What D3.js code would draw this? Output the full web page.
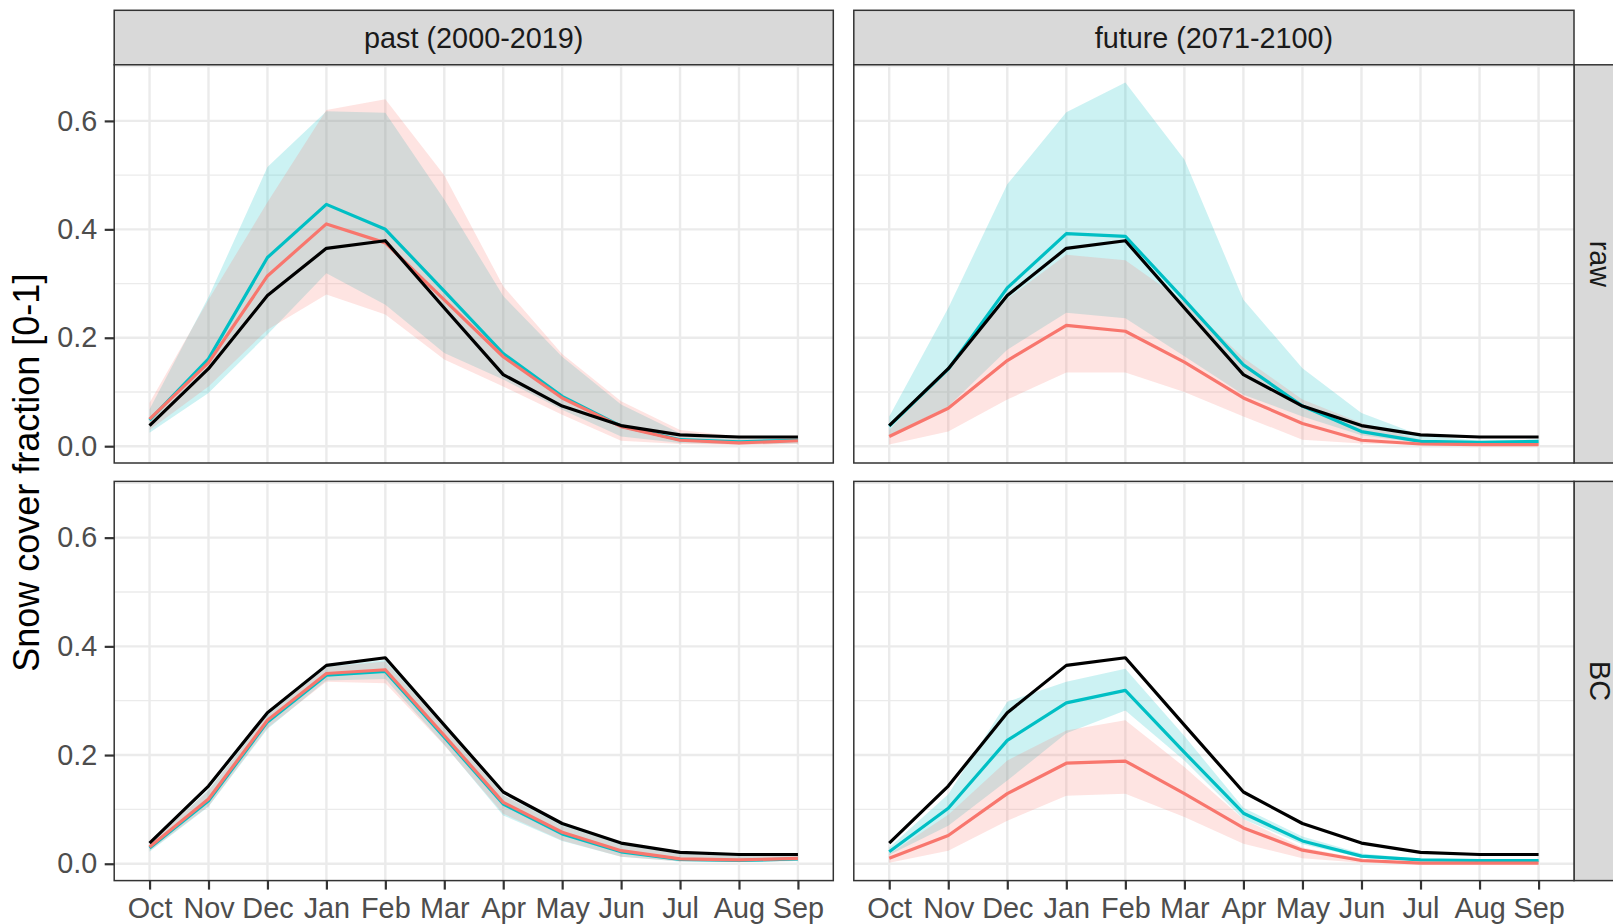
<!DOCTYPE html>
<html>
<head>
<meta charset="utf-8">
<script src="https://cdn.jsdelivr.net/npm/d3@7"></script>
<style>
  body { margin: 0; background: #fff; overflow: hidden; }
  svg { display: block; font-family: "Liberation Sans", Arial, sans-serif; }
</style>
</head>
<body>
<div id="chart"></div>
<script>
// categories and facet labels
var months = ["Oct", "Nov", "Dec", "Jan", "Feb", "Mar", "Apr", "May", "Jun", "Jul", "Aug", "Sep"];
var periods = ["past (2000-2019)", "future (2071-2100)"];
var corrections = ["raw", "BC"];
var yTicks = [0, 0.2, 0.4, 0.6];
var yMinor = [0.1, 0.3, 0.5, 0.7];

// observed snow cover (black line, same in every panel)
var observed = [0.038, 0.143, 0.278, 0.365, 0.379, 0.255, 0.132, 0.074, 0.038, 0.021, 0.017, 0.017];

// past, raw
var pastRawRed     = [0.050, 0.154, 0.314, 0.410, 0.375, 0.270, 0.165, 0.089, 0.036, 0.011, 0.006, 0.010];
var pastRawRedLo   = [0.030, 0.110, 0.215, 0.280, 0.243, 0.160, 0.110, 0.058, 0.010, 0.004, 0.002, 0.004];
var pastRawRedHi   = [0.080, 0.270, 0.450, 0.620, 0.640, 0.500, 0.295, 0.170, 0.083, 0.030, 0.018, 0.018];
var pastRawCyan    = [0.048, 0.161, 0.348, 0.446, 0.400, 0.286, 0.171, 0.092, 0.037, 0.012, 0.008, 0.011];
var pastRawCyanLo  = [0.025, 0.098, 0.206, 0.319, 0.261, 0.172, 0.123, 0.067, 0.018, 0.006, 0.003, 0.005];
var pastRawCyanHi  = [0.068, 0.275, 0.515, 0.618, 0.615, 0.455, 0.277, 0.165, 0.077, 0.024, 0.018, 0.018];

// future, raw
var futRawRed      = [0.018, 0.070, 0.158, 0.223, 0.212, 0.155, 0.089, 0.042, 0.011, 0.004, 0.003, 0.003];
var futRawRedLo    = [0.003, 0.027, 0.086, 0.136, 0.136, 0.100, 0.055, 0.012, 0.005, 0.002, 0.001, 0.001];
var futRawRedHi    = [0.030, 0.145, 0.272, 0.353, 0.343, 0.266, 0.163, 0.086, 0.043, 0.012, 0.006, 0.006];
var futRawCyan     = [0.037, 0.142, 0.292, 0.392, 0.387, 0.270, 0.150, 0.074, 0.027, 0.009, 0.007, 0.009];
var futRawCyanLo   = [0.020, 0.073, 0.178, 0.246, 0.236, 0.166, 0.095, 0.055, 0.020, 0.006, 0.004, 0.005];
var futRawCyanHi   = [0.055, 0.255, 0.483, 0.616, 0.671, 0.529, 0.270, 0.144, 0.061, 0.020, 0.010, 0.012];

// past, bias corrected
var pastBcRed      = [0.031, 0.119, 0.264, 0.350, 0.357, 0.236, 0.113, 0.058, 0.024, 0.009, 0.007, 0.010];
var pastBcRedLo    = [0.024, 0.106, 0.250, 0.335, 0.332, 0.218, 0.092, 0.043, 0.013, 0.004, 0.003, 0.005];
var pastBcRedHi    = [0.037, 0.135, 0.273, 0.362, 0.372, 0.250, 0.126, 0.070, 0.035, 0.018, 0.014, 0.015];
var pastBcCyan     = [0.029, 0.116, 0.261, 0.347, 0.354, 0.233, 0.110, 0.055, 0.022, 0.008, 0.006, 0.009];
var pastBcCyanLo   = [0.022, 0.105, 0.248, 0.337, 0.340, 0.219, 0.089, 0.042, 0.013, 0.004, 0.003, 0.005];
var pastBcCyanHi   = [0.036, 0.136, 0.274, 0.363, 0.375, 0.250, 0.127, 0.072, 0.036, 0.019, 0.015, 0.016];

// future, bias corrected
var futBcRed       = [0.010, 0.052, 0.129, 0.185, 0.189, 0.129, 0.066, 0.025, 0.006, 0.001, 0.001, 0.001];
var futBcRedLo     = [0.002, 0.024, 0.079, 0.125, 0.129, 0.086, 0.037, 0.010, 0.002, 0.000, 0.000, 0.000];
var futBcRedHi     = [0.018, 0.090, 0.190, 0.245, 0.264, 0.178, 0.082, 0.030, 0.009, 0.003, 0.002, 0.002];
var futBcCyan      = [0.022, 0.102, 0.227, 0.296, 0.319, 0.205, 0.093, 0.042, 0.014, 0.007, 0.006, 0.006];
var futBcCyanLo    = [0.016, 0.070, 0.153, 0.240, 0.282, 0.190, 0.082, 0.036, 0.011, 0.004, 0.003, 0.003];
var futBcCyanHi    = [0.030, 0.128, 0.298, 0.335, 0.359, 0.235, 0.103, 0.050, 0.019, 0.009, 0.007, 0.007];

var red = "#F8766D", cyan = "#00BFC4";

var panels = [
  { col: 0, row: 0, red: pastRawRed, redLo: pastRawRedLo, redHi: pastRawRedHi, cyan: pastRawCyan, cyanLo: pastRawCyanLo, cyanHi: pastRawCyanHi },
  { col: 1, row: 0, red: futRawRed,  redLo: futRawRedLo,  redHi: futRawRedHi,  cyan: futRawCyan,  cyanLo: futRawCyanLo,  cyanHi: futRawCyanHi },
  { col: 0, row: 1, red: pastBcRed,  redLo: pastBcRedLo,  redHi: pastBcRedHi,  cyan: pastBcCyan,  cyanLo: pastBcCyanLo,  cyanHi: pastBcCyanHi },
  { col: 1, row: 1, red: futBcRed,   redLo: futBcRedLo,   redHi: futBcRedHi,   cyan: futBcCyan,   cyanLo: futBcCyanLo,   cyanHi: futBcCyanHi }
];

var width = 1613, height = 924;
var colX = [[114.2, 833.3], [853.8, 1574]];
var rowY = [[64.8, 463], [481.4, 880.6]];
var stripTop = 10.3, stripRightW = 54;

var svg = d3.select("#chart").append("svg")
  .attr("width", width)
  .attr("height", height);

// y title
svg.append("text")
  .attr("transform", "translate(39," + ((rowY[0][0] + rowY[1][1]) / 2) + ") rotate(-90)")
  .attr("text-anchor", "middle")
  .attr("font-size", 36)
  .attr("fill", "#000")
  .text("Snow cover fraction [0-1]");

// top strips
periods.forEach(function(p, i) {
  var x0 = colX[i][0], x1 = colX[i][1];
  svg.append("rect")
    .attr("x", x0).attr("y", stripTop)
    .attr("width", x1 - x0).attr("height", rowY[0][0] - stripTop)
    .attr("fill", "#D9D9D9").attr("stroke", "#333333").attr("stroke-width", 1.5);
  svg.append("text")
    .attr("x", (x0 + x1) / 2).attr("y", (stripTop + rowY[0][0]) / 2 + 10.3)
    .attr("text-anchor", "middle")
    .attr("font-size", 28.8)
    .attr("fill", "#1A1A1A")
    .text(p);
});

// right strips
corrections.forEach(function(c, j) {
  var y0 = rowY[j][0], y1 = rowY[j][1];
  var sx = colX[1][1];
  svg.append("rect")
    .attr("x", sx).attr("y", y0)
    .attr("width", stripRightW).attr("height", y1 - y0)
    .attr("fill", "#D9D9D9").attr("stroke", "#333333").attr("stroke-width", 1.5);
  svg.append("text")
    .attr("transform", "translate(" + (sx + 16) + "," + ((y0 + y1) / 2) + ") rotate(90)")
    .attr("text-anchor", "middle")
    .attr("font-size", 28.8)
    .attr("fill", "#1A1A1A")
    .text(c);
});

panels.forEach(function(pn) {
  var x0 = colX[pn.col][0], x1 = colX[pn.col][1];
  var y0 = rowY[pn.row][0], y1 = rowY[pn.row][1];

  var x = d3.scalePoint().domain(months).range([x0, x1]).padding(0.6);
  var y = d3.scaleLinear().domain([-0.031, 0.7035]).range([y1, y0]);

  var g = svg.append("g");

  g.append("rect")
    .attr("x", x0).attr("y", y0)
    .attr("width", x1 - x0).attr("height", y1 - y0)
    .attr("fill", "#fff");

  // grid
  g.selectAll(".minor").data(yMinor.filter(function(d) { return y(d) > y0; })).enter()
    .append("line")
    .attr("x1", x0).attr("x2", x1)
    .attr("y1", function(d) { return y(d); }).attr("y2", function(d) { return y(d); })
    .attr("stroke", "#EBEBEB").attr("stroke-width", 1.3);
  g.selectAll(".majorY").data(yTicks).enter()
    .append("line")
    .attr("x1", x0).attr("x2", x1)
    .attr("y1", function(d) { return y(d); }).attr("y2", function(d) { return y(d); })
    .attr("stroke", "#EBEBEB").attr("stroke-width", 2.4);
  g.selectAll(".majorX").data(months).enter()
    .append("line")
    .attr("x1", function(d) { return x(d); }).attr("x2", function(d) { return x(d); })
    .attr("y1", y0).attr("y2", y1)
    .attr("stroke", "#EBEBEB").attr("stroke-width", 2.4);

  var area = function(lo, hi) {
    return d3.area()
      .x(function(d, i) { return x(months[i]); })
      .y0(function(d, i) { return y(lo[i]); })
      .y1(function(d, i) { return y(hi[i]); })(months);
  };
  var line = function(vals) {
    return d3.line()
      .x(function(d, i) { return x(months[i]); })
      .y(function(d) { return y(d); })(vals);
  };

  g.append("path").attr("d", area(pn.cyanLo, pn.cyanHi)).attr("fill", cyan).attr("fill-opacity", 0.2);
  g.append("path").attr("d", area(pn.redLo, pn.redHi)).attr("fill", red).attr("fill-opacity", 0.2);

  [[pn.cyan, cyan], [pn.red, red], [observed, "#000"]].forEach(function(s) {
    g.append("path")
      .attr("d", line(s[0]))
      .attr("fill", "none")
      .attr("stroke", s[1])
      .attr("stroke-width", 3.2)
      .attr("stroke-linejoin", "round");
  });

  g.append("rect")
    .attr("x", x0).attr("y", y0)
    .attr("width", x1 - x0).attr("height", y1 - y0)
    .attr("fill", "none").attr("stroke", "#333333").attr("stroke-width", 1.5);

  // axes
  if (pn.col === 0) {
    var ay = svg.append("g")
      .attr("transform", "translate(" + x0 + ",0)")
      .call(d3.axisLeft(y).tickValues(yTicks).tickFormat(d3.format(".1f")).tickSize(9.5).tickPadding(7.5));
    ay.select(".domain").remove();
    ay.selectAll("line").attr("stroke", "#333333").attr("stroke-width", 2.2);
    ay.selectAll("text").attr("font-size", 28.8).attr("fill", "#4D4D4D").attr("font-family", null);
    ay.attr("font-family", null);
  }
  if (pn.row === 1) {
    var ax = svg.append("g")
      .attr("transform", "translate(0," + y1 + ")")
      .call(d3.axisBottom(x).tickSize(9).tickPadding(8));
    ax.select(".domain").remove();
    ax.selectAll("line").attr("stroke", "#333333").attr("stroke-width", 2.2);
    ax.selectAll("text").attr("font-size", 28.8).attr("fill", "#4D4D4D");
    ax.attr("font-family", null);
  }
});
</script>
</body>
</html>
